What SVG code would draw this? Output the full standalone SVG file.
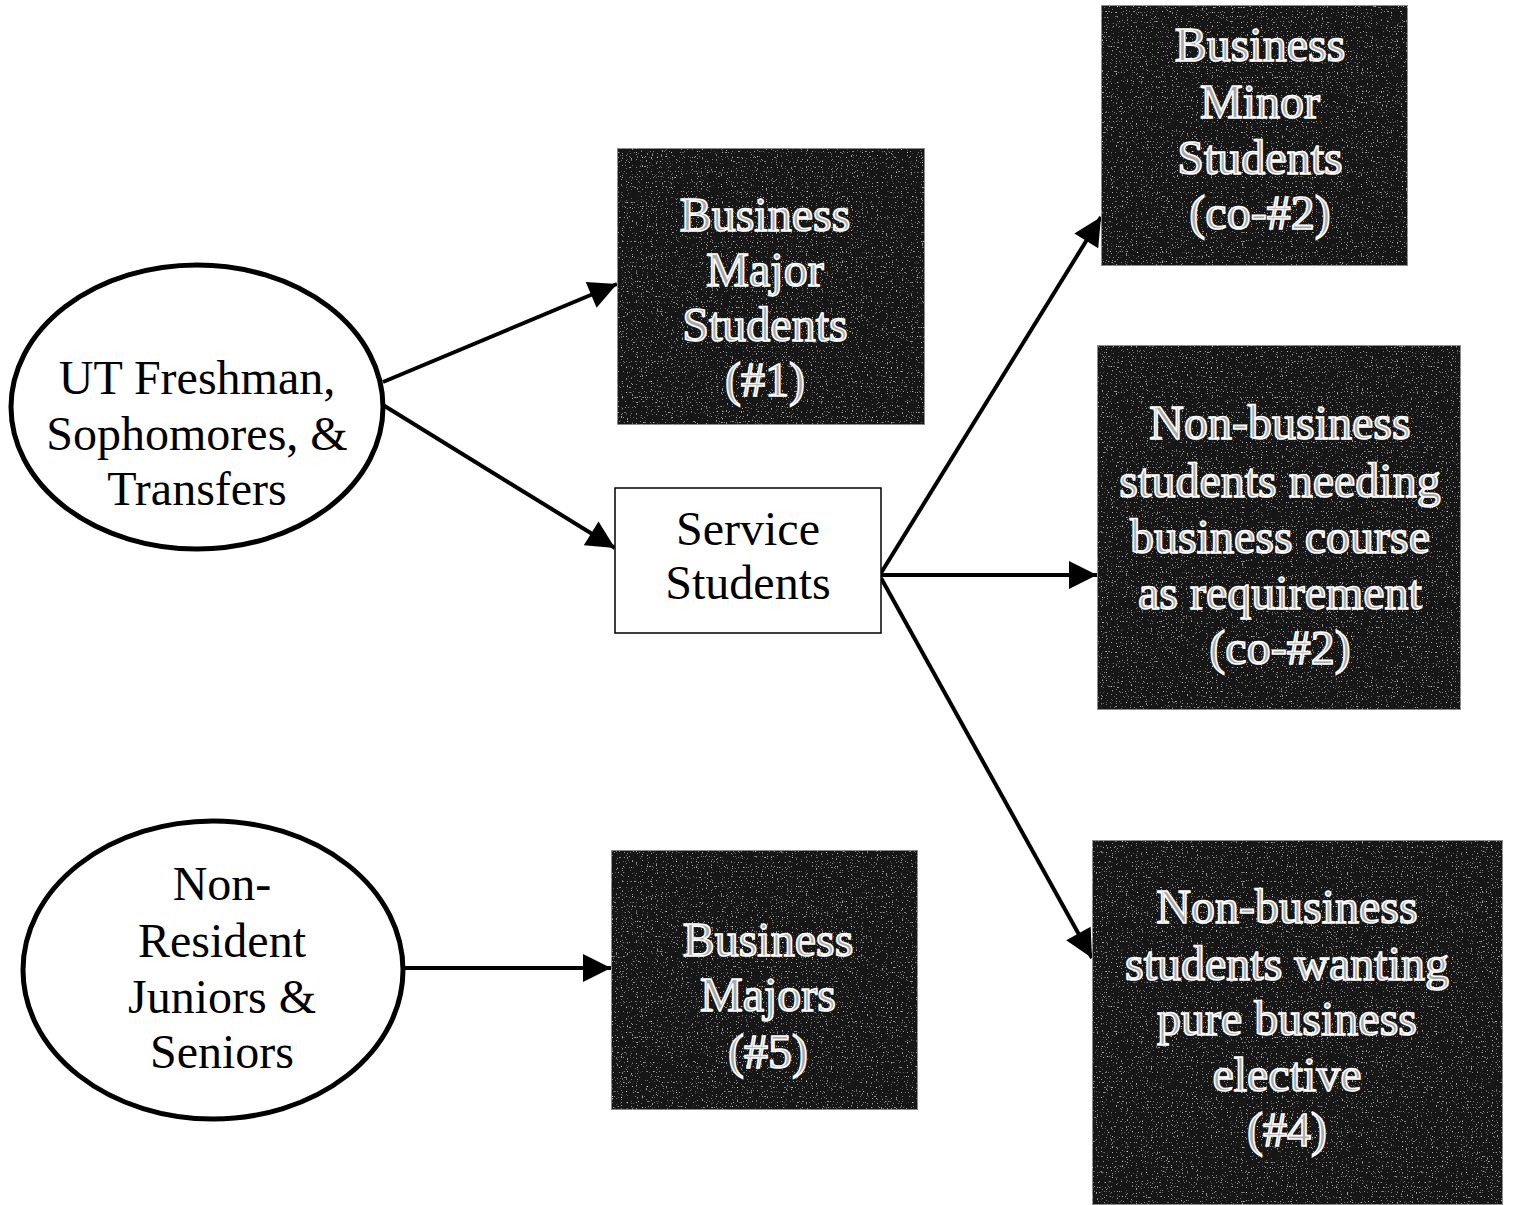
<svg xmlns="http://www.w3.org/2000/svg" width="1513" height="1205" viewBox="0 0 1513 1205">
<style>
.src{fill:#fff;stroke:#000;stroke-width:5}
.dark{fill:#121212;stroke:#8a8a8a;stroke-width:2}
.svc{fill:#fff;stroke:#000;stroke-width:1.5}
.t{font-family:"Liberation Serif","Times New Roman",serif;font-size:48px;text-anchor:middle;fill:#000}
.w{font-family:"Liberation Serif","Times New Roman",serif;font-size:48px;text-anchor:middle;fill:#a8a8a8;stroke:#ffffff;stroke-width:1.6}
.c{stroke:#000;stroke-width:4;fill:none;marker-end:url(#ah)}
</style>
<defs>
<marker id="ah" viewBox="0 0 10 10" refX="10" refY="5" markerUnits="userSpaceOnUse" markerWidth="36" markerHeight="28" orient="auto"><path d="M0,0 L10,5 L0,10 z" fill="#000"/></marker>
<filter id="noise" x="0" y="0" width="100%" height="100%">
<feTurbulence type="fractalNoise" baseFrequency="0.8" numOctaves="1" seed="3" result="n"/>
<feColorMatrix in="n" type="matrix" values="0 0 0 0 0.75  0 0 0 0 0.75  0 0 0 0 0.75  0 0 0 5 -3.2" result="s"/>
<feComposite in="s" in2="SourceGraphic" operator="in" result="sp"/>
<feMerge><feMergeNode in="SourceGraphic"/><feMergeNode in="sp"/></feMerge>
</filter>
</defs>
<rect width="1513" height="1205" fill="#fff"/>
<g id="connectors">
<line class="c" x1="383" y1="382" x2="617" y2="284"/>
<line class="c" x1="383" y1="405" x2="615" y2="548"/>
<line class="c" x1="881" y1="573" x2="1101" y2="217"/>
<line class="c" x1="881" y1="575" x2="1097" y2="575"/>
<line class="c" x1="881" y1="578" x2="1092" y2="958"/>
<line class="c" x1="395" y1="968" x2="611" y2="968"/>
</g>
<g id="ut">
<ellipse class="src" cx="197" cy="407" rx="186" ry="142"/>
<text class="t" x="197" y="394">UT Freshman,</text>
<text class="t" x="197" y="450">Sophomores, &amp;</text>
<text class="t" x="197" y="505">Transfers</text>
</g>
<g id="nonres">
<ellipse class="src" cx="213" cy="970" rx="190" ry="149"/>
<text class="t" x="222" y="900">Non-</text>
<text class="t" x="222" y="957">Resident</text>
<text class="t" x="222" y="1013">Juniors &amp;</text>
<text class="t" x="222" y="1068">Seniors</text>
</g>
<g id="service">
<rect class="svc" x="615" y="488" width="266" height="145"/>
<text class="t" x="748" y="545">Service</text>
<text class="t" x="748" y="599">Students</text>
</g>
<g id="major1">
<rect class="dark" x="617" y="148" width="308" height="277" filter="url(#noise)"/>
<text class="w" x="765" y="231">Business</text>
<text class="w" x="765" y="286">Major</text>
<text class="w" x="765" y="341">Students</text>
<text class="w" x="765" y="396">(#1)</text>
</g>
<g id="minor">
<rect class="dark" x="1101" y="5" width="307" height="261" filter="url(#noise)"/>
<text class="w" x="1260" y="61">Business</text>
<text class="w" x="1260" y="118">Minor</text>
<text class="w" x="1260" y="174">Students</text>
<text class="w" x="1260" y="229">(co-#2)</text>
</g>
<g id="needing">
<rect class="dark" x="1097" y="345" width="364" height="365" filter="url(#noise)"/>
<text class="w" x="1280" y="439">Non-business</text>
<text class="w" x="1280" y="497">students needing</text>
<text class="w" x="1280" y="553">business course</text>
<text class="w" x="1280" y="609">as requirement</text>
<text class="w" x="1280" y="664">(co-#2)</text>
</g>
<g id="wanting">
<rect class="dark" x="1092" y="840" width="411" height="365" filter="url(#noise)"/>
<text class="w" x="1287" y="923">Non-business</text>
<text class="w" x="1287" y="980">students wanting</text>
<text class="w" x="1287" y="1035">pure business</text>
<text class="w" x="1287" y="1091">elective</text>
<text class="w" x="1287" y="1146">(#4)</text>
</g>
<g id="major5">
<rect class="dark" x="611" y="850" width="307" height="260" filter="url(#noise)"/>
<text class="w" x="768" y="956">Business</text>
<text class="w" x="768" y="1011">Majors</text>
<text class="w" x="768" y="1068">(#5)</text>
</g>
</svg>
